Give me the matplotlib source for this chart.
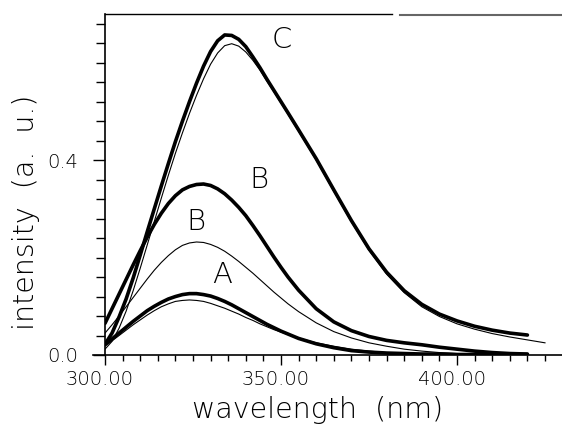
import numpy as np
import matplotlib
matplotlib.use("Agg")
import matplotlib.pyplot as plt
from matplotlib.lines import Line2D
from matplotlib.transforms import ScaledTranslation

# wavelength grid (nm)
wl = [300, 302, 304, 306, 308, 310, 312, 314, 316, 318, 320, 322, 324, 326,
      328, 330, 332, 334, 336, 338, 340, 342, 344, 346, 348, 350, 352, 355,
      360, 365, 370, 375, 380, 385, 390, 395, 400, 405, 410, 415, 420]
wl_c_thin = wl + [425]

c_thick = [0.022, 0.045, 0.078, 0.115, 0.158, 0.205, 0.253, 0.300, 0.347,
           0.393, 0.438, 0.480, 0.520, 0.558, 0.593, 0.623, 0.645, 0.657,
           0.656, 0.648, 0.633, 0.612, 0.590, 0.566, 0.543, 0.520, 0.497,
           0.462, 0.403, 0.339, 0.276, 0.218, 0.170, 0.132, 0.104, 0.084,
           0.070, 0.059, 0.051, 0.045, 0.041]
c_thin = [0.012, 0.028, 0.055, 0.090, 0.132, 0.178, 0.226, 0.274, 0.322,
          0.369, 0.414, 0.456, 0.496, 0.533, 0.567, 0.597, 0.620, 0.635,
          0.639, 0.634, 0.622, 0.605, 0.585, 0.562, 0.540, 0.517, 0.494,
          0.459, 0.400, 0.336, 0.273, 0.215, 0.166, 0.128, 0.099, 0.079,
          0.064, 0.053, 0.044, 0.037, 0.031, 0.025]
b_thick = [0.065, 0.095, 0.125, 0.155, 0.185, 0.214, 0.242, 0.268, 0.291,
           0.311, 0.327, 0.339, 0.346, 0.350, 0.351, 0.348, 0.341, 0.331,
           0.318, 0.303, 0.286, 0.266, 0.245, 0.223, 0.201, 0.180, 0.160,
           0.133, 0.095, 0.068, 0.050, 0.038, 0.030, 0.025, 0.021, 0.016,
           0.012, 0.008, 0.005, 0.003, 0.002]
b_thin = [0.045, 0.062, 0.080, 0.099, 0.118, 0.137, 0.156, 0.174, 0.190,
          0.204, 0.216, 0.225, 0.230, 0.232, 0.231, 0.227, 0.221, 0.213,
          0.203, 0.192, 0.180, 0.168, 0.155, 0.142, 0.129, 0.117, 0.105,
          0.089, 0.066, 0.048, 0.035, 0.025, 0.018, 0.012, 0.008, 0.005,
          0.003, 0.002, 0.001, 0.001, 0.0]
a_thick = [0.022, 0.033, 0.045, 0.057, 0.069, 0.080, 0.091, 0.100, 0.108,
           0.115, 0.120, 0.124, 0.126, 0.126, 0.124, 0.121, 0.116, 0.110,
           0.103, 0.095, 0.087, 0.079, 0.071, 0.063, 0.056, 0.049, 0.043,
           0.034, 0.023, 0.015, 0.009, 0.006, 0.004, 0.003, 0.002, 0.002,
           0.001, 0.001, 0.001, 0.001, 0.001]
a_thin = [0.018, 0.029, 0.040, 0.051, 0.062, 0.072, 0.082, 0.091, 0.099,
          0.105, 0.110, 0.112, 0.113, 0.112, 0.110, 0.106, 0.101, 0.096,
          0.090, 0.084, 0.077, 0.071, 0.064, 0.058, 0.052, 0.047, 0.042,
          0.035, 0.025, 0.018, 0.012, 0.008, 0.005, 0.003, 0.002, 0.001,
          0.001, 0.0, 0.0, 0.0, 0.0]

# curve labels: text, wavelength, intensity
labels = [("C", 350.2, 0.646), ("B", 343.7, 0.359),
          ("B", 325.9, 0.273), ("A", 333.2, 0.164)]

x_major = [300, 350, 400]
x_major_labels = ["300.00", "350.00", "400.00"]
y_major = [0.0, 0.4]
y_major_labels = ["0.0", "0.4"]

W, H = 562, 426
FONT = dict(family="DejaVu Sans", weight=200)

fig = plt.figure(figsize=(W / 100, H / 100), dpi=100)
ax = fig.add_axes([105 / W, (H - 355) / H, (W - 105) / W, (355 - 14) / H])
x_end = 300 + (W - 105) / 3.52
ax.set_xlim(300, x_end)
ax.set_ylim(0, 0.70)

thick = dict(color="black", lw=2.6, solid_capstyle="round",
             solid_joinstyle="round")
thin = dict(color="black", lw=0.8)
ax.plot(wl_c_thin, c_thin, **thin)
ax.plot(wl, b_thin, **thin)
ax.plot(wl, a_thin, **thin)
ax.plot(wl, c_thick, **thick)
ax.plot(wl, b_thick, **thick)
ax.plot(wl, a_thick, **thick)

for txt, x, y in labels:
    ax.text(x, y, txt, fontsize=21, ha="center", va="center", **FONT)

# axis lines
for s in ["top", "right", "bottom"]:
    ax.spines[s].set_visible(False)
ax.spines["left"].set_linewidth(1.2)
ax.plot([296.6, x_end], [0, 0], color="black", lw=1.2, clip_on=False)
fig.add_artist(Line2D([105 / W, 392 / W], [1 - 14 / H, 1 - 14 / H],
                      color="black", lw=1.0))
fig.add_artist(Line2D([400 / W, 1.0], [1 - 14.7 / H, 1 - 14.7 / H],
                      color="0.4", lw=1.5))

ax.set_xticks(x_major)
ax.set_xticklabels(x_major_labels, fontsize=14, **FONT)
ax.set_xticks(np.arange(305, 426, 5), minor=True)
ax.set_yticks(y_major)
ax.set_yticklabels(y_major_labels, fontsize=14, **FONT)
ax.set_yticks(np.arange(0.04, 0.69, 0.04), minor=True)
ax.tick_params(axis="x", which="major", direction="out", length=7, width=1,
               pad=4, colors="black")
ax.tick_params(axis="x", which="minor", direction="out", length=4.5, width=1)
ax.tick_params(axis="y", which="major", direction="out", length=9, width=1,
               pad=10.5, colors="black")
ax.tick_params(axis="y", which="minor", direction="out", length=6.5, width=1)

# x tick labels sit a little left of their ticks in the original
shift = ScaledTranslation(-5 / 100, 0, fig.dpi_scale_trans)
for lab in ax.get_xticklabels():
    lab.set_transform(lab.get_transform() + shift)

fig.text(318 / W, 1 - 410 / H, "wavelength  (nm)", fontsize=20.5,
         ha="center", va="center", **FONT)
fig.text(26 / W, 1 - 212 / H, "intensity  (a.  u.)", fontsize=20.5,
         rotation=90, ha="center", va="center", **FONT)

fig.savefig("out.png", dpi=100)
